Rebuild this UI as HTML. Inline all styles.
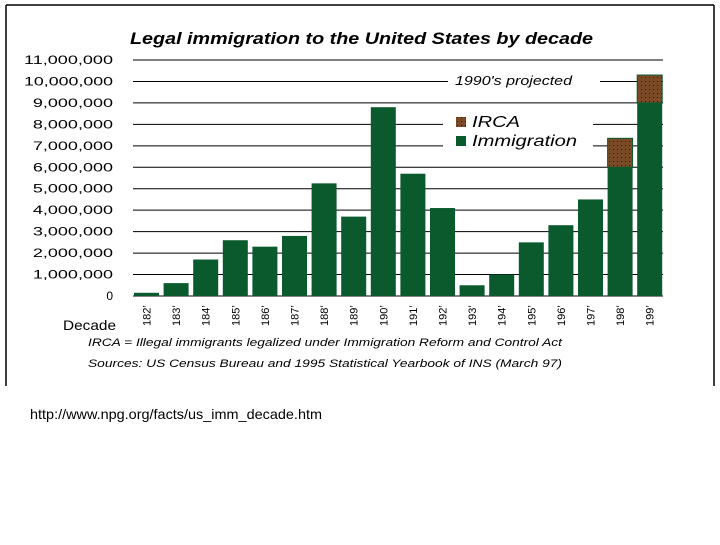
<!DOCTYPE html>
<html><head><meta charset="utf-8"><style>
body{margin:0;background:#fff;width:720px;height:540px;overflow:hidden;font-family:"Liberation Sans",sans-serif}
</style></head><body>
<svg width="720" height="540" viewBox="0 0 720 540">
<defs><pattern id="dots" width="4" height="4" patternUnits="userSpaceOnUse"><rect width="4" height="4" fill="#7a4a26"/><rect x="1" y="1" width="1" height="1" fill="#222"/></pattern></defs>
<line x1="6" y1="5" x2="714" y2="5" stroke="#000" stroke-width="1.5"/>
<line x1="6" y1="5" x2="6" y2="386" stroke="#000" stroke-width="1.5"/>
<line x1="714" y1="5" x2="714" y2="386" stroke="#000" stroke-width="1.5"/>
<text x="130" y="44" font-size="17" font-weight="bold" font-style="italic" textLength="463" lengthAdjust="spacingAndGlyphs">Legal immigration to the United States by decade</text>
<g id="grid"></g><g id="bars"></g><g id="xl"></g>
<rect x="448" y="70" width="152" height="20" fill="#fff"/>
<text x="455" y="85" font-size="13" font-style="italic" textLength="117" lengthAdjust="spacingAndGlyphs">1990's projected</text>
<rect x="443" y="110" width="150" height="42" fill="#fff"/>
<rect x="456" y="117" width="10" height="10" fill="url(#dots)"/>
<text x="472" y="127" font-size="16" font-style="italic" textLength="48" lengthAdjust="spacingAndGlyphs">IRCA</text>
<rect x="456" y="136" width="10" height="10" fill="#0a5a2e"/>
<text x="472" y="146" font-size="16" font-style="italic" textLength="105" lengthAdjust="spacingAndGlyphs">Immigration</text>
<text x="63" y="330" font-size="14" textLength="53" lengthAdjust="spacingAndGlyphs">Decade</text>
<text x="88" y="346" font-size="11" font-style="italic" textLength="474" lengthAdjust="spacingAndGlyphs">IRCA = Illegal immigrants legalized under Immigration Reform and Control Act</text>
<text x="88" y="367" font-size="11" font-style="italic" textLength="474" lengthAdjust="spacingAndGlyphs">Sources:  US Census Bureau and 1995 Statistical Yearbook of INS (March 97)</text>
<text x="30" y="419" font-size="14" textLength="292" lengthAdjust="spacingAndGlyphs">http://www.npg.org/facts/us_imm_decade.htm</text>
</svg>
<script>
const categories=["1820","1830","1840","1850","1860","1870","1880","1890","1900","1910","1920","1930","1940","1950","1960","1970","1980","1990"];
const immigration=[150000,600000,1700000,2600000,2300000,2800000,5250000,3700000,8800000,5700000,4100000,500000,1000000,2500000,3300000,4500000,6000000,9000000];
const irca=[0,0,0,0,0,0,0,0,0,0,0,0,0,0,0,0,1350000,1300000];
const yTicks=[0,1000000,2000000,3000000,4000000,5000000,6000000,7000000,8000000,9000000,10000000,11000000];
const NS="http://www.w3.org/2000/svg";
const y=v=>296-v/11000000*236;
const x=i=>134+i*29.6;
const bw=25;
function mk(t,a,p){const e=document.createElementNS(NS,t);for(const k in a)e.setAttribute(k,a[k]);p.appendChild(e);return e;}
const g=document.getElementById('grid');
yTicks.forEach(v=>{
 const l=mk('line',{x1:133,x2:663,y1:y(v),y2:y(v),stroke:'#000','stroke-width':1},g);
 
 
 const s=v===0?'0':v.toLocaleString('en-US');
 const t=mk('text',{x:113,y:y(v)+4,'text-anchor':'end','font-size':12},g);
 if(s.length>1){t.setAttribute('textLength',s.length*8.9);t.setAttribute('lengthAdjust','spacingAndGlyphs');}
 t.textContent=s;
 
 
});
const b=document.getElementById('bars');
categories.forEach((c,i)=>{
 const r=mk('rect',{x:x(i),y:y(immigration[i]),width:bw,height:296-y(immigration[i]),fill:'#0a5a2e'},b);
 
 
 if(irca[i]>0){
  const top=y(immigration[i]+irca[i]);
  const s=mk('rect',{x:x(i),y:top,width:bw,height:y(immigration[i])-top,fill:'url(#dots)',stroke:'#0a5a2e','stroke-width':1},b);
  
  
 }
 const t=mk('text',{x:0,y:0,'font-size':11,transform:`translate(${x(i)+bw/2+4},326) rotate(-90)`},document.getElementById('xl'));
 t.textContent=c.slice(0,3)+'\u2019';
 
 
});
</script>
</body></html>
